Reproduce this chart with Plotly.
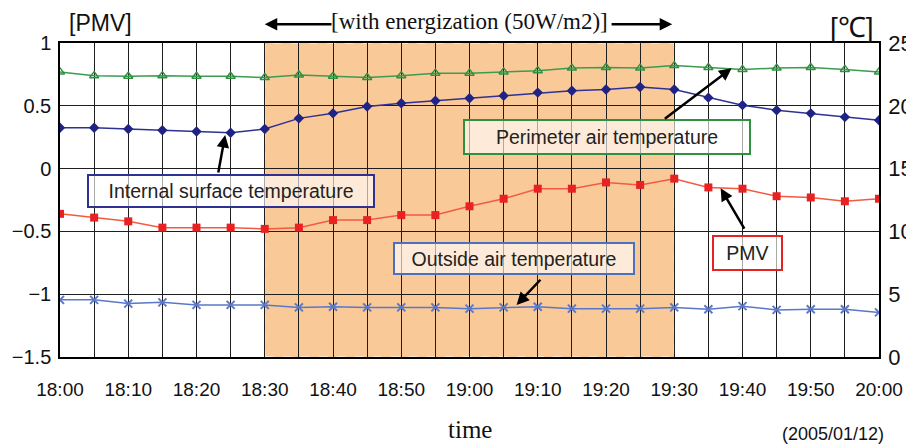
import plotly.graph_objects as go

times = ["18:00", "18:05", "18:10", "18:15", "18:20", "18:25", "18:30", "18:35", "18:40",
         "18:45", "18:50", "18:55", "19:00", "19:05", "19:10", "19:15", "19:20", "19:25",
         "19:30", "19:35", "19:40", "19:45", "19:50", "19:55", "20:00"]
tick_labels = ["18:00", "18:10", "18:20", "18:30", "18:40", "18:50", "19:00",
               "19:10", "19:20", "19:30", "19:40", "19:50", "20:00"]

pmv = [-0.36, -0.39, -0.42, -0.47, -0.47, -0.47, -0.48, -0.47, -0.41, -0.41, -0.37, -0.37,
       -0.30, -0.24, -0.16, -0.16, -0.11, -0.13, -0.08, -0.15, -0.16, -0.22, -0.23, -0.26, -0.24]
perimeter_air = [22.7, 22.4, 22.35, 22.4, 22.35, 22.35, 22.25, 22.45, 22.35, 22.25, 22.4, 22.6,
                 22.6, 22.7, 22.8, 23.0, 23.05, 23.0, 23.2, 23.05, 22.9, 23.0, 23.05, 22.9, 22.7]
internal_surface = [18.25, 18.25, 18.15, 18.05, 17.95, 17.85, 18.15, 19.0, 19.4, 19.95, 20.2, 20.4,
                    20.6, 20.8, 21.05, 21.2, 21.3, 21.5, 21.3, 20.65, 20.05, 19.65, 19.4, 19.1, 18.85]
outside_air = [4.55, 4.55, 4.25, 4.35, 4.15, 4.15, 4.15, 3.95, 4.0, 3.95, 3.95, 3.95,
               3.85, 3.95, 4.0, 3.85, 3.85, 3.85, 3.95, 3.8, 4.05, 3.75, 3.8, 3.8, 3.55]

energize_start, energize_end = "18:30", "19:30"


def to_min(t):
    h, m = t.split(":")
    return (int(h) - 18) * 60 + int(m)


x = [to_min(t) for t in times]
tickvals = [to_min(t) for t in tick_labels]

SANS = "Liberation Sans, Arial, sans-serif"
SERIF = "Liberation Serif, Times New Roman, serif"

fig = go.Figure()

fig.add_trace(go.Scatter(x=x, y=perimeter_air, yaxis="y2", mode="lines+markers",
                         line=dict(color="#3C9B50", width=1.5),
                         marker=dict(symbol="triangle-up-open", size=8, color="#2E9140",
                                     line=dict(width=1.5))))
fig.add_trace(go.Scatter(x=x, y=internal_surface, yaxis="y2", mode="lines+markers",
                         line=dict(color="#2E3192", width=1.5),
                         marker=dict(symbol="diamond", size=8, color="#1F2385")))
fig.add_trace(go.Scatter(x=x, y=outside_air, yaxis="y2", mode="lines+markers",
                         line=dict(color="#5A78C8", width=1.5),
                         marker=dict(symbol="x-thin", size=8, color="#5A78C8",
                                     line=dict(width=2, color="#5A78C8"))))
fig.add_trace(go.Scatter(x=x, y=pmv, yaxis="y", mode="lines+markers",
                         line=dict(color="#F45A40", width=1.5),
                         marker=dict(symbol="square", size=8, color="#E82222")))

# energization shaded region
fig.add_shape(type="rect", xref="x", yref="paper",
              x0=to_min(energize_start), x1=to_min(energize_end), y0=0, y1=1,
              fillcolor="#F9C998", line=dict(color="white", width=1, dash="dash"),
              layer="below")

grid = "#1E1E1E"
fig.update_layout(
    width=906, height=437,
    margin=dict(l=52, r=35, t=35, b=88, autoexpand=False),
    paper_bgcolor="white", plot_bgcolor="white",
    showlegend=False,
    xaxis=dict(range=[0, 120], tickvals=tickvals, ticktext=tick_labels, automargin=False,
               showgrid=True, gridcolor=grid, gridwidth=1.3,
               minor=dict(dtick=5, showgrid=True, gridcolor=grid, gridwidth=1.3),
               showline=True, linecolor="black", linewidth=1.5, mirror=True,
               ticks="", ticklabelstandoff=14, zeroline=False,
               tickfont=dict(family=SANS, size=19, color="#111")),
    yaxis=dict(range=[-1.5, 1], dtick=0.5, showgrid=True, gridcolor=grid, gridwidth=1.3,
               showline=True, linecolor="black", linewidth=1.5, zeroline=False,
               ticks="", ticklabelstandoff=3, automargin=False,
               tickfont=dict(family=SANS, size=20, color="#111")),
    yaxis2=dict(range=[0, 25], dtick=5, overlaying="y", side="right", showgrid=False,
                showline=True, linecolor="black", linewidth=1.5, zeroline=False,
                ticks="", ticklabelstandoff=3, automargin=False,
                tickfont=dict(family=SANS, size=22, color="#111")),
)

ann = []


def label(text, x0, y0, family, size):
    return dict(text=text, xref="paper", yref="paper", x=x0, y=y0, xanchor="center",
                yanchor="middle", showarrow=False, font=dict(family=family, size=size, color="#111"))


ann.append(label("[PMV]", 0.049, 1.064, SANS, 23))
ann.append(label("[℃]", 0.967, 1.05, SANS, 28))
ann.append(label("time", 0.5, -0.231, SERIF, 25))
ann.append(label("(2005/01/12)", 0.944, -0.246, SANS, 18))
# energization header
ann.append(dict(text="[with energization (50W/m2)]", xref="x", yref="paper", x=60, y=1.067,
                xanchor="center", yanchor="middle",
                showarrow=False, font=dict(family=SERIF, size=23, color="#111")))
ann.append(dict(text="", xref="x", yref="y domain", x=to_min(energize_start), y=1.06,
                axref="x", ayref="y domain", ax=40, ay=1.06, showarrow=True,
                arrowhead=2, arrowsize=1, arrowwidth=2.5, arrowcolor="black"))
ann.append(dict(text="", xref="x", yref="y domain", x=to_min(energize_end) - 0.3, y=1.06,
                axref="x", ayref="y domain", ax=80.6, ay=1.06, showarrow=True,
                arrowhead=2, arrowsize=1, arrowwidth=2.5, arrowcolor="black"))


# label boxes
def box(text, cx, cy, w, h, color):
    return dict(text=text, xref="x", yref="y", x=cx, y=cy, width=w - 4, height=h - 4,
                xanchor="center", yanchor="middle",
                showarrow=False, bgcolor="rgba(255,255,255,0.62)", bordercolor=color,
                borderwidth=2, borderpad=0, align="center", valign="middle",
                font=dict(family=SANS, size=19.5, color="#222"))


ann.append(box("Internal surface temperature", 25.05, -0.178, 288, 34, "#2E3192"))
ann.append(box("Perimeter air temperature", 80.1, 0.252, 288, 36, "#2E9140"))
ann.append(box("Outside air temperature", 66.5, -0.716, 242, 33, "#4A70C0"))
ann.append(box("PMV", 100.7, -0.672, 71, 36, "#E82222"))


def arrow(x_head, y_head, x_tail, y_tail):
    return dict(text="", xref="x", yref="y", x=x_head, y=y_head, axref="x", ayref="y",
                ax=x_tail, ay=y_tail, showarrow=True, arrowhead=2, arrowsize=1,
                arrowwidth=2.5, arrowcolor="black")


ann.append(arrow(24.2, 0.267, 23.15, -0.043))
ann.append(arrow(98.4, 0.799, 88.4, 0.387))
ann.append(arrow(66.9, -1.086, 70.6, -0.873))
ann.append(arrow(96.8, -0.157, 100.4, -0.489))

fig.update_layout(annotations=ann)

fig.write_html("out.html")
